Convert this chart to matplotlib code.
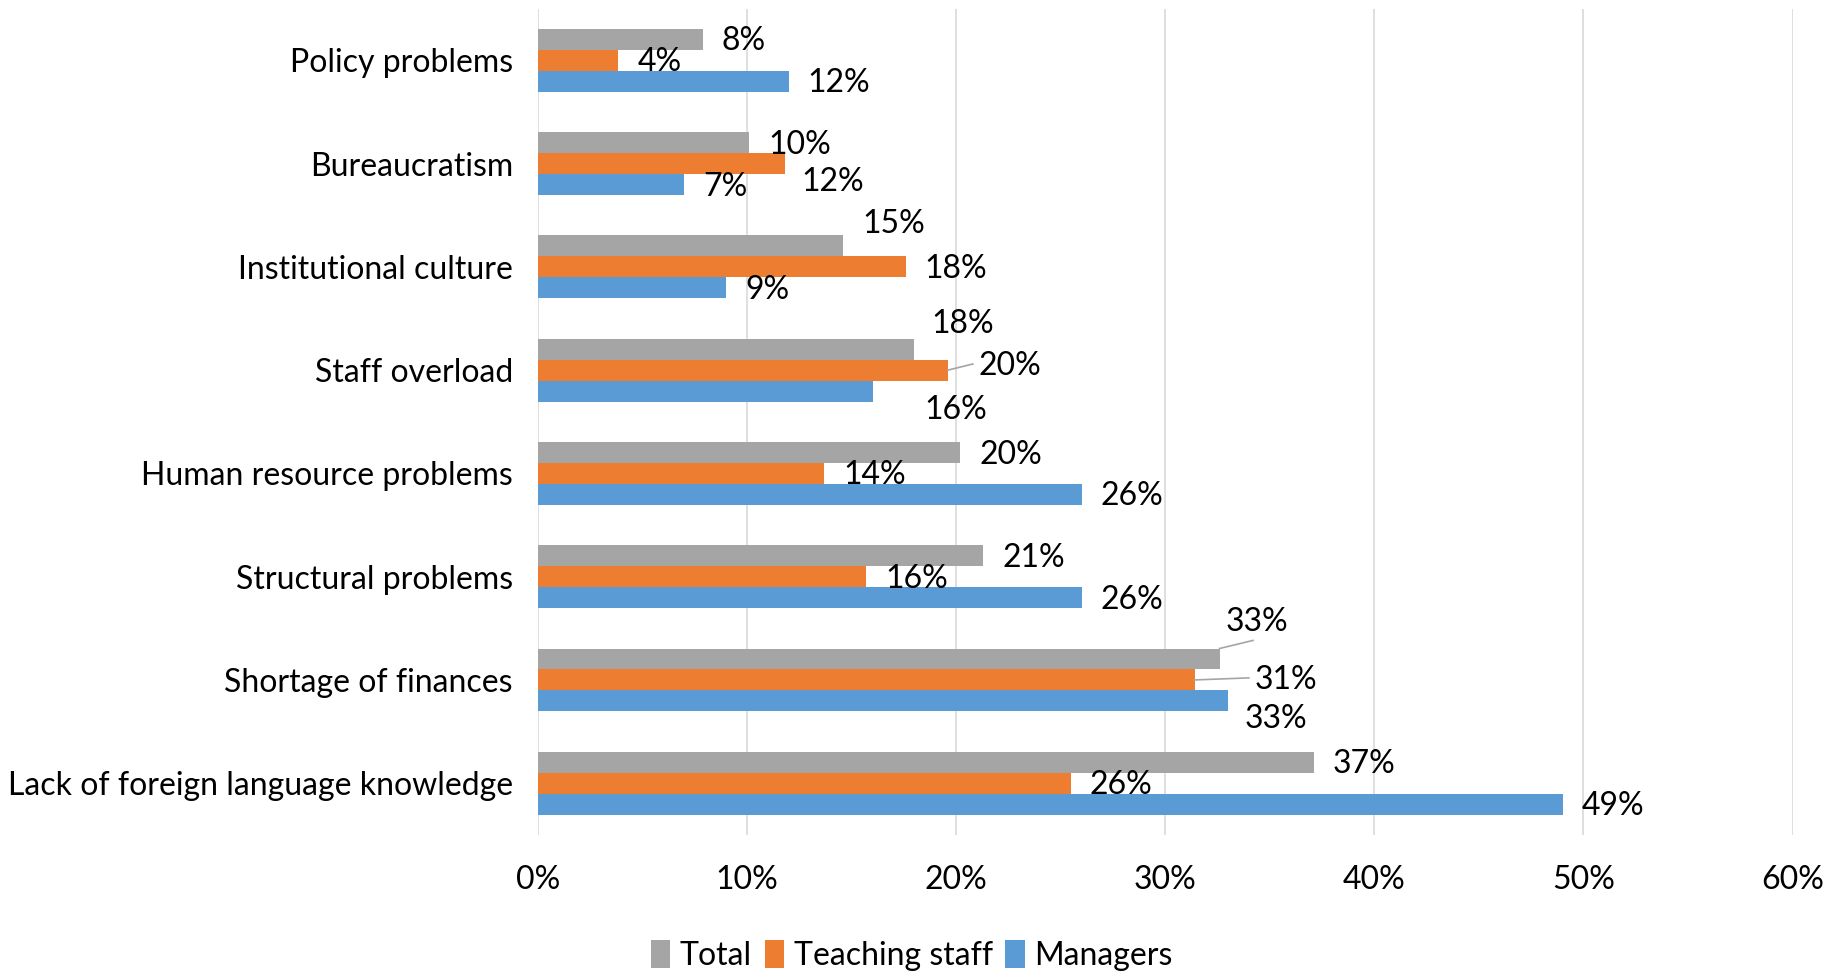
import matplotlib
matplotlib.use("Agg")
import matplotlib.pyplot as plt
import numpy as np

plt.rcParams["font.family"] = ["Lato", "DejaVu Sans"]

# Categories top to bottom, values in percent
categories = [
    "Policy problems",
    "Bureaucratism",
    "Institutional culture",
    "Staff overload",
    "Human resource problems",
    "Structural problems",
    "Shortage of finances",
    "Lack of foreign language knowledge",
]
total = [7.9, 10.1, 14.6, 18.0, 20.2, 21.3, 32.6, 37.1]
teaching = [3.85, 11.8, 17.6, 19.6, 13.7, 15.7, 31.4, 25.5]
managers = [12.0, 7.0, 9.0, 16.0, 26.0, 26.0, 33.0, 49.0]

series_names = ["Total", "Teaching staff", "Managers"]
colors = ["#A5A5A5", "#ED7D31", "#5B9BD5"]

# label placement tweaks (category, series) -> (dx in %, dy in category units)
label_shift = {
    (1, 1): (0.8, 0.16),
    (2, 0): (0.9, -0.23),
    (3, 0): (0.8, -0.26),
    (3, 1): (1.45, -0.06),
    (3, 2): (2.5, 0.16),
    (6, 0): (0.3, -0.38),
    (6, 1): (2.85, -0.02),
    (6, 2): (0.8, 0.16),
}
leaders = {(3, 1), (6, 0), (6, 1)}

FS = 23

fig = plt.figure(figsize=(18.31, 9.73), dpi=100)
ax = fig.add_axes([0.2938, 0.142, 0.6852, 0.849])

y = np.arange(len(categories))
h = 0.203
data = [total, teaching, managers]
for s, (vals, name, col) in enumerate(zip(data, series_names, colors)):
    pos = y + (s - 1) * h
    ax.barh(pos, vals, height=h, color=col, label=name, zorder=3)
    for i, v in enumerate(vals):
        dx, dy = label_shift.get((i, s), (0.9, 0.0))
        tx, ty = v + dx, pos[i] + dy
        ax.text(tx, ty + 0.02, f"{round(v):.0f}%", ha="left", va="center",
                fontsize=FS, color="black", zorder=5)
        if (i, s) in leaders:
            if s == 0:
                ax.plot([v, tx + 1.3], [pos[i] - h / 2, ty + 0.2],
                        color="#A5A5A5", lw=1.2, zorder=4)
            else:
                ax.plot([v, tx - 0.25], [pos[i], ty],
                        color="#A5A5A5", lw=1.2, zorder=4)

ax.set_xlim(0, 60)
ax.set_ylim(len(categories) - 0.5, -0.5)
ax.set_xticks(np.arange(0, 61, 10))
ax.set_xticklabels([f"{t}%" for t in range(0, 61, 10)], fontsize=FS)
ax.set_yticks(y)
ax.set_yticklabels(categories, fontsize=FS)
ax.tick_params(axis="x", length=0, pad=22)
ax.tick_params(axis="y", length=0, pad=18)
ax.grid(axis="x", color="#D9D9D9", lw=1.2, zorder=0)
for sp in ax.spines.values():
    sp.set_visible(False)

fig.legend(loc="center", bbox_to_anchor=(0.498, 0.018), ncol=3, frameon=False,
           fontsize=FS, handlelength=0.6, handleheight=1.0, handletextpad=0.3,
           columnspacing=0.4)

fig.savefig("out.png", dpi=100)
